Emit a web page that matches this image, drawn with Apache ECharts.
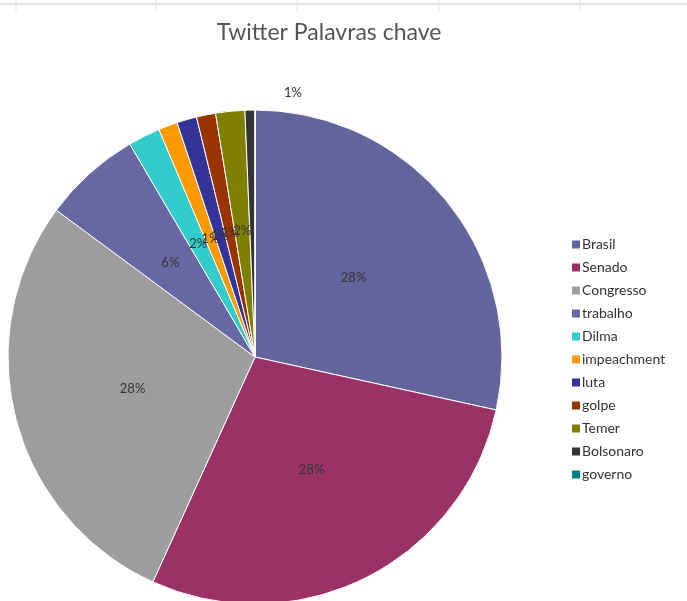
<!DOCTYPE html>
<html>
<head>
<meta charset="utf-8">
<script src="https://cdn.jsdelivr.net/npm/echarts@6/dist/echarts.min.js"></script>
<style>
  html, body { margin: 0; padding: 0; background: #fff; }
  #chart { width: 687px; height: 601px; }
</style>
</head>
<body>
<div id="chart"></div>
<script>
// Keyword shares on Twitter
const categories = ['Brasil', 'Senado', 'Congresso', 'trabalho', 'Dilma', 'impeachment',
                    'luta', 'golpe', 'Temer', 'Bolsonaro', 'governo'];
const shares = [28.4, 28.3, 28.3, 6.4, 2.1, 1.25, 1.3, 1.25, 1.9, 0.65, 0];
const colors = ['#64649c', '#9a3267', '#9d9d9d', '#6767a3', '#33cccc', '#ff9900',
                '#333399', '#993300', '#808000', '#333333', '#008080'];

const chart = echarts.init(document.getElementById('chart'), null, { renderer: 'canvas' });

const data = categories.map((name, i) => {
  const item = { name: name, value: shares[i], itemStyle: { color: colors[i] } };
  if (name === 'Bolsonaro') {
    item.label = { position: 'outside' };
    item.labelLine = { show: false };
  }
  if (shares[i] === 0) {
    item.label = { show: false };
  }
  return item;
});

const option = {
  animation: false,
  backgroundColor: '#ffffff',
  textStyle: { fontFamily: 'Lato, "Open Sans", sans-serif' },
  title: {
    text: 'Twitter Palavras chave',
    left: 324,
    textAlign: 'center',
    top: 16,
    textStyle: { fontSize: 23, fontWeight: 'normal', color: '#555555', fontFamily: 'Lato, "Open Sans", sans-serif' }
  },
  legend: {
    orient: 'vertical',
    left: 565,
    top: 232,
    itemWidth: 10,
    itemHeight: 10,
    itemGap: 8,
    icon: 'rect',
    data: categories,
    textStyle: { fontSize: 14, color: '#333333', padding: [0, 0, 0, -4], lineHeight: 15 }
  },
  graphic: [
    { type: 'line', shape: { x1: 0, y1: 4, x2: 687, y2: 4 }, style: { stroke: '#e3e3e3', lineWidth: 2 } },
    { type: 'line', shape: { x1: 16, y1: 0, x2: 16, y2: 12 }, style: { stroke: '#e3e3e3', lineWidth: 1 } },
    { type: 'line', shape: { x1: 156, y1: 0, x2: 156, y2: 12 }, style: { stroke: '#e3e3e3', lineWidth: 1 } },
    { type: 'line', shape: { x1: 297, y1: 0, x2: 297, y2: 12 }, style: { stroke: '#e3e3e3', lineWidth: 1 } },
    { type: 'line', shape: { x1: 439, y1: 0, x2: 439, y2: 12 }, style: { stroke: '#e3e3e3', lineWidth: 1 } },
    { type: 'line', shape: { x1: 580, y1: 0, x2: 580, y2: 12 }, style: { stroke: '#e3e3e3', lineWidth: 1 } }
  ],
  series: [{
    type: 'pie',
    center: [255, 357],
    radius: 247,
    startAngle: 90,
    clockwise: true,
    avoidLabelOverlap: false,
    minShowLabelAngle: 0,
    itemStyle: { borderColor: '#ffffff', borderWidth: 1 },
    label: {
      show: true,
      position: 'inside',
      fontSize: 13,
      color: '#333333',
      formatter: (p) => Math.round(p.percent) + '%'
    },
    labelLayout: (p) => {
      if (p.dataIndex === categories.indexOf('Bolsonaro')) {
        return { x: 293, y: 93, align: 'center', verticalAlign: 'middle' };
      }
      return {};
    },
    emphasis: { disabled: true },
    data: data
  }]
};

chart.setOption(option);
</script>
</body>
</html>
